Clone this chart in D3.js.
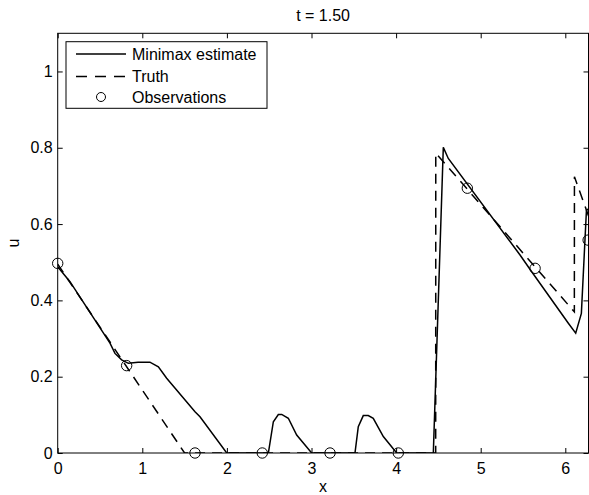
<!DOCTYPE html>
<html>
<head>
<meta charset="utf-8">
<script src="https://cdn.jsdelivr.net/npm/d3@7"></script>
<style>
  body { margin: 0; background: #ffffff; }
  text { font-family: 'Liberation Sans', Arial, Helvetica, sans-serif; }
</style>
</head>
<body>
<div id="vis"></div>
<script>
var w = 589;
var h = 495;

// observations (circles)
var obsX = [0, 0.815, 1.623, 2.418, 3.219, 4.026, 4.842, 5.643, 6.27];
var obsU = [0.497, 0.229, 0, 0, 0, 0, 0.694, 0.484, 0.558];

// truth (dashed)
var truthX = [0, 1.5, 4.468, 4.469, 6.107, 6.108, 6.213, 6.283];
var truthU = [0.495, 0, 0, 0.786, 0.37, 0.724, 0.659, 0.616];

// minimax estimate (solid)
var estX = [0, 0.145, 0.362, 0.618, 0.677, 0.756, 0.835, 0.95, 1.09, 1.19, 1.288, 1.623, 1.682, 1.998,
  2.49, 2.549, 2.608, 2.648, 2.726, 2.825, 3.002,
  3.514, 3.553, 3.612, 3.671, 3.73, 3.849, 4.007,
  4.44, 4.558, 4.617, 5.465, 5.603, 6.036, 6.123, 6.19, 6.25, 6.283];
var estU = [0.488, 0.449, 0.375, 0.288, 0.261, 0.244, 0.235, 0.238, 0.238, 0.226, 0.196, 0.108, 0.095, 0,
  0, 0.082, 0.101, 0.101, 0.091, 0.047, 0,
  0, 0.069, 0.098, 0.098, 0.091, 0.043, 0,
  0, 0.801, 0.772, 0.519, 0.475, 0.340, 0.314, 0.366, 0.637, 0.64];

var xTicks = [0, 1, 2, 3, 4, 5, 6];
var yTicks = [0, 0.2, 0.4, 0.6, 0.8, 1];
var legendLabels = ['Minimax estimate', 'Truth', 'Observations'];

// plot box (window.top is reserved, so no plain "top")
var mLeft = 57.7, mRight = 588.5, mTop = 33.3, mBottom = 453;
var fs = '16px';

var svg = d3.select('#vis')
  .append('svg')
    .attr('width', w)
    .attr('height', h);

var x = d3.scaleLinear()
  .domain([0, 2 * Math.PI])
  .range([mLeft, mLeft + 84.6 * 2 * Math.PI]);

var y = d3.scaleLinear()
  .domain([0, 1.1])
  .range([mBottom, mTop]);

svg.append('defs').append('clipPath')
    .attr('id', 'clip')
  .append('rect')
    .attr('x', mLeft)
    .attr('y', mTop)
    .attr('width', mRight - mLeft)
    .attr('height', mBottom - mTop);

// axes, ticks pointing inward
var fmtY = function(d) { return d === 0 || d === 1 ? String(d) : d.toFixed(1); };
var fmtX = function(d) { return String(d); };

svg.append('g')
    .attr('transform', 'translate(0,' + mBottom + ')')
    .call(d3.axisBottom(x).tickValues(xTicks).tickFormat(fmtX).tickSizeInner(-5).tickSizeOuter(0).tickPadding(10));

svg.append('g')
    .attr('transform', 'translate(' + mLeft + ',0)')
    .call(d3.axisLeft(y).tickValues(yTicks).tickFormat(fmtY).tickSizeInner(-5).tickSizeOuter(0).tickPadding(5));

svg.append('g')
    .attr('transform', 'translate(0,' + mTop + ')')
    .call(d3.axisTop(x).tickValues(xTicks).tickSizeInner(-5).tickSizeOuter(0).tickFormat(''));

svg.append('g')
    .attr('transform', 'translate(' + mRight + ',0)')
    .call(d3.axisRight(y).tickValues(yTicks).tickSizeInner(-5).tickSizeOuter(0).tickFormat(''));

svg.selectAll('.domain').remove();
svg.selectAll('.tick line').attr('stroke', '#000').attr('stroke-width', 1);
svg.selectAll('.tick text')
    .style('font-size', fs)
    .attr('fill', '#000');

// box
svg.append('rect')
    .attr('x', mLeft)
    .attr('y', mTop)
    .attr('width', mRight - mLeft)
    .attr('height', mBottom - mTop)
    .style('fill', 'none')
    .style('stroke', '#000')
    .style('stroke-width', 1);

var line = d3.line()
  .x(function(d) { return x(d[0]); })
  .y(function(d) { return y(d[1]); });

var truth = truthX.map(function(d, i) { return [d, truthU[i]]; });
var est = estX.map(function(d, i) { return [d, estU[i]]; });

svg.append('path')
    .datum(truth)
    .attr('d', line)
    .attr('clip-path', 'url(#clip)')
    .style('fill', 'none')
    .style('stroke', '#000')
    .style('stroke-width', 1.5)
    .style('stroke-dasharray', '10,7');

svg.append('path')
    .datum(est)
    .attr('d', line)
    .attr('clip-path', 'url(#clip)')
    .style('fill', 'none')
    .style('stroke', '#000')
    .style('stroke-width', 1.5);

svg.selectAll('circle.obs')
  .data(obsX)
  .enter()
  .append('circle')
    .attr('class', 'obs')
    .attr('cx', function(d) { return x(d); })
    .attr('cy', function(d, i) { return y(obsU[i]); })
    .attr('r', 5.2)
    .style('fill', 'none')
    .style('stroke', '#000')
    .style('stroke-width', 1);

// title and axis labels
svg.append('text')
    .attr('x', (mLeft + mRight) / 2)
    .attr('y', 21)
    .attr('text-anchor', 'middle')
    .style('font-size', fs)
    .text('t = 1.50');

svg.append('text')
    .attr('x', (mLeft + mRight) / 2)
    .attr('y', 492)
    .attr('text-anchor', 'middle')
    .style('font-size', fs)
    .text('x');

svg.append('text')
    .attr('transform', 'translate(19,243) rotate(-90)')
    .attr('text-anchor', 'middle')
    .style('font-size', fs)
    .text('u');

// legend
var lg = svg.append('g');

lg.append('rect')
    .attr('x', 66)
    .attr('y', 41.7)
    .attr('width', 201)
    .attr('height', 66.6)
    .style('fill', '#fff')
    .style('stroke', '#000')
    .style('stroke-width', 1);

var rowY = [54, 76.5, 97];

lg.append('line')
    .attr('x1', 76).attr('x2', 126)
    .attr('y1', rowY[0]).attr('y2', rowY[0])
    .style('stroke', '#000')
    .style('stroke-width', 1.5);

lg.append('line')
    .attr('x1', 76).attr('x2', 126)
    .attr('y1', rowY[1]).attr('y2', rowY[1])
    .style('stroke', '#000')
    .style('stroke-width', 1.5)
    .style('stroke-dasharray', '11,8');

lg.append('circle')
    .attr('cx', 101)
    .attr('cy', rowY[2])
    .attr('r', 4.5)
    .style('fill', 'none')
    .style('stroke', '#000')
    .style('stroke-width', 1);

lg.selectAll('text')
  .data(legendLabels)
  .enter()
  .append('text')
    .attr('x', 132)
    .attr('y', function(d, i) { return rowY[i]; })
    .attr('dy', '0.36em')
    .style('font-size', fs)
    .text(function(d) { return d; });
</script>
</body>
</html>
